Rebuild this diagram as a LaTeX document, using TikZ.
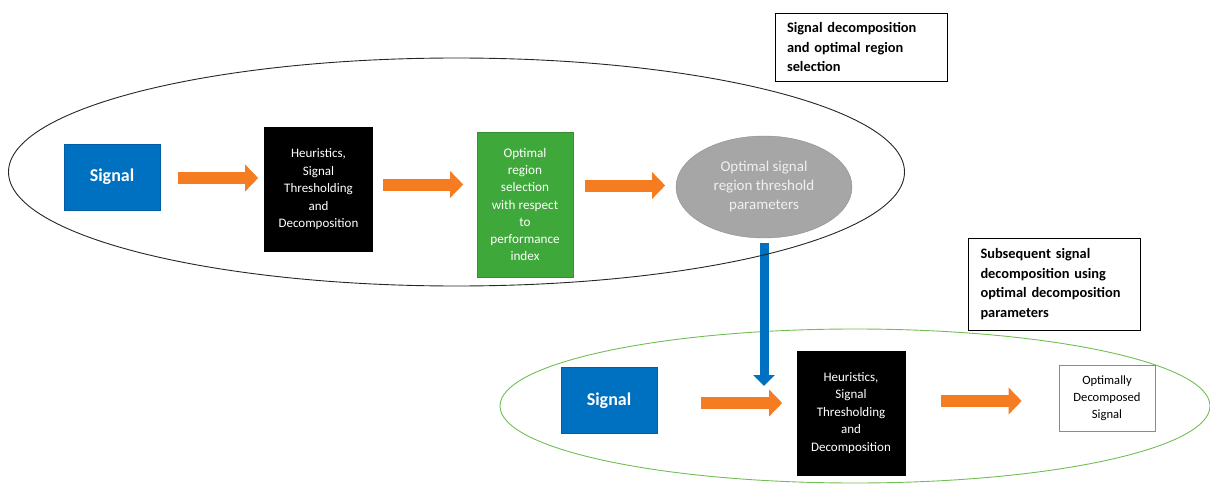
\documentclass[tikz,border=0pt]{standalone}
\usepackage{fontspec}
\setmainfont{Carlito}
\usetikzlibrary{arrows.meta,shapes.geometric}
\definecolor{sigblue}{RGB}{0,112,192}
\definecolor{floworange}{RGB}{245,124,32}
\definecolor{selgreen}{RGB}{62,168,58}
\definecolor{paramgray}{RGB}{166,166,166}
\definecolor{ringgreen}{RGB}{112,190,84}

\begin{document}
\begin{tikzpicture}[x=1pt,y=-1pt,
    sigbox/.style={fill=sigblue,draw=sigblue!85!black,text=white,minimum width=96pt,minimum height=66pt,
        font=\fontsize{18}{21}\selectfont\bfseries},
    heurbox/.style={fill=black,text=white,minimum width=109pt,minimum height=125pt,align=center,
        font=\fontsize{13}{17.5}\selectfont},
    selbox/.style={fill=selgreen,draw=selgreen!85!black,text=white,minimum width=96pt,minimum height=145pt,align=center,
        font=\fontsize{13.2}{17.3}\selectfont},
    parambox/.style={ellipse,fill=paramgray,draw=paramgray!85!black,text=black!6,minimum width=176pt,minimum height=102pt,
        inner sep=0pt,align=center,font=\fontsize{15}{19}\selectfont},
    outbox/.style={draw=ringgreen!90!black,fill=white,minimum width=96pt,minimum height=66pt,align=center,
        font=\fontsize{12.6}{17}\selectfont},
    labelbox/.style={draw=black,line width=0.9pt,fill=white,align=left,inner xsep=12pt,
        font=\fontsize{14.4}{19.5}\selectfont\bfseries},
    flow/.style={draw=floworange,line width=12pt,-{Triangle[width=26pt,length=13pt]}},
    feed/.style={draw=sigblue,line width=9pt,-{Triangle[width=21pt,length=11pt]}},
]
\useasboundingbox (0,0) rectangle (1210,484);

% second stage: decomposition with the chosen parameters
\node[ellipse,draw=ringgreen,line width=0.9pt,minimum width=710pt,minimum height=154pt] (stagetwo) at (855,406) {};

\node[sigbox] (sig2) at (609,400.5) {Signal};
\node[heurbox] (heur2) at (851,413) {Heuristics,\\Signal\\Thresholding\\and\\Decomposition};
\node[outbox] (result) at (1107,398) {Optimally\\Decomposed\\Signal};

% first stage: decomposition and region selection
\node[sigbox] (sig1) at (112,177) {Signal};
\node[heurbox] (heur1) at (318.5,189.5) {Heuristics,\\Signal\\Thresholding\\and\\Decomposition};
\node[selbox] (sel) at (525,204.5) {Optimal\\region\\selection\\with respect\\to\\performance\\index};
\node[parambox] (param) at (764,187) {Optimal signal\\region threshold\\parameters};

\coordinate (merge) at (764,386);
\draw[feed] ([yshift=-5]param.south) -- (merge);

\node[ellipse,draw=black!85,line width=0.9pt,minimum width=896pt,minimum height=228pt] (stageone) at (456.5,172) {};

\draw[flow] ([shift={(18,1)}]sig1.east) -- ++(80,0);
\draw[flow] ([shift={(10,-5)}]heur1.east) -- ++(80,0);
\draw[flow] ([shift={(12,-19)}]sel.east) -- ++(80,0);
\draw[flow] ([shift={(44,2.5)}]sig2.east) -- ++(81,0);
\draw[flow] ([shift={(35,-12)}]heur2.east) -- ++(81,0);

% stage captions
\node[labelbox,text width=148pt,minimum height=68pt] (capone) at (861,47) {Signal decomposition\\and optimal region\\selection};
\node[labelbox,text width=148pt,minimum height=92pt] (captwo) at (1054.5,284) {Subsequent signal\\decomposition using\\optimal decomposition\\parameters};
\end{tikzpicture}
\end{document}
